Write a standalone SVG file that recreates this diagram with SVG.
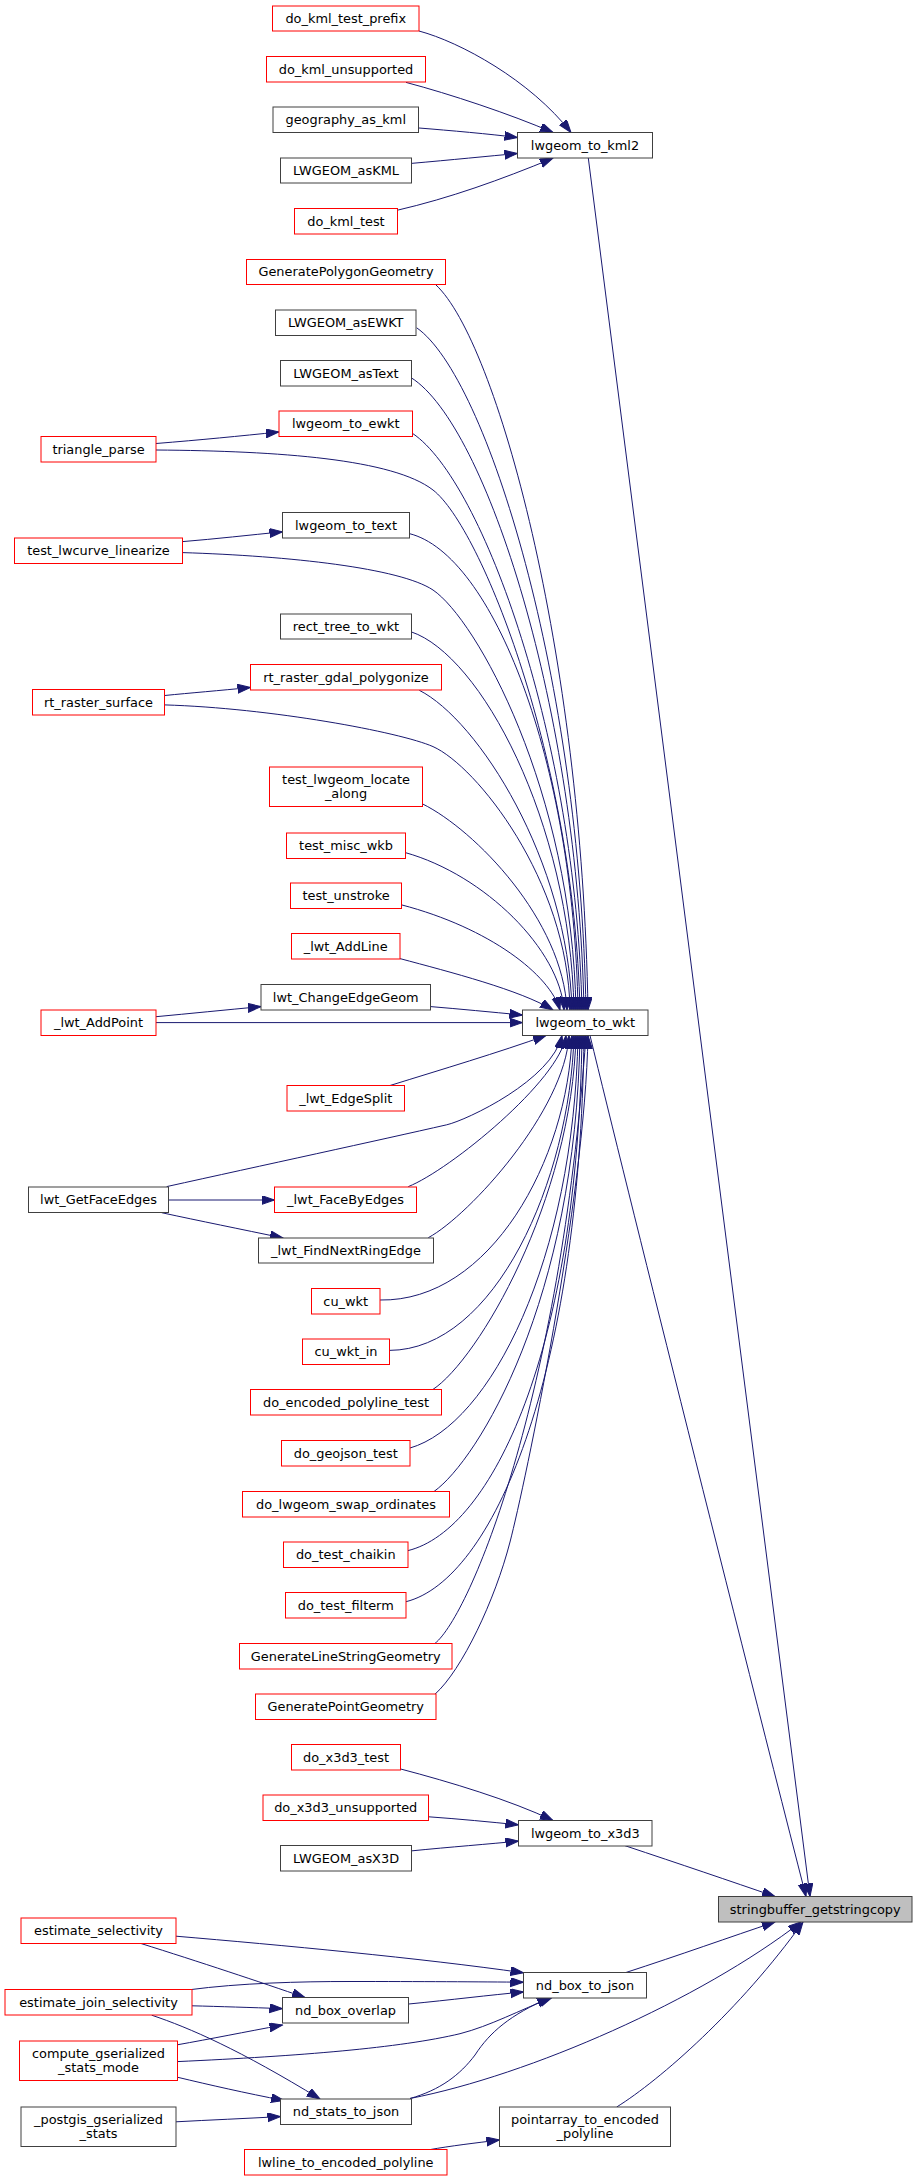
<svg xmlns="http://www.w3.org/2000/svg" width="917" height="2181" viewBox="0 0 917 2181">
<style>
.n rect{fill:#ffffff;stroke-width:1}
.r rect{stroke:#ff0000}
.k rect{stroke:#404040}
.g rect{fill:#bfbfbf;stroke:#404040}
text{font-family:"DejaVu Sans","Liberation Sans",sans-serif;font-size:12.9px;text-anchor:middle;fill:#000000}
#edges path{fill:none;stroke:#191970;stroke-width:1;marker-end:url(#a)}
</style>
<defs>
<marker id="a" markerWidth="14" markerHeight="10" refX="13" refY="4.5" orient="auto" markerUnits="userSpaceOnUse">
<path d="M0,0 L13,4.5 L0,9 z" fill="#191970" stroke="#191970" stroke-width="1"/>
</marker>
</defs>
<rect width="917" height="2181" fill="#ffffff"/>
<g id="edges">
<path d="M419,31 C460,42 530,80 571,132.5"/>
<path d="M406,82.4 C450,94 510,114 553,132.5"/>
<path d="M419,128 C450,130.5 490,134 517.5,137.5"/>
<path d="M411.3,163.4 C450,160 490,156 517.5,153.5"/>
<path d="M397,210.3 C450,198 500,180 553,158.2"/>
<path d="M588.3,158 L810,1896.5"/>
<path d="M436,285 C496,341 582,650 588,1010"/>
<path d="M416.7,327.8 C487,377 580,680 586,1010"/>
<path d="M411.3,377.8 C486,425 578,710 584,1010"/>
<path d="M412.7,433.5 C483,481 576,740 582,1010"/>
<path d="M156,443.5 C200,440 240,436 279,432"/>
<path d="M156,450 C280,451 393,459 433,490 C481,527 574,760 580,1010"/>
<path d="M409.3,533.6 C492,554 574,760 578,1010"/>
<path d="M182.7,541.6 C215,539 250,535 282.5,531.8"/>
<path d="M182.7,552.6 C290,556 400,568 433,590 C476,619 572,790 576,1010"/>
<path d="M411.3,631.9 C480,655 570,820 574,1010"/>
<path d="M419.3,690.3 C478,720 568,860 572,1010"/>
<path d="M164.7,695.5 C190,693 220,690.5 250.5,687.5"/>
<path d="M164.7,704.9 C270,708 400,732 433,746.6 C476,765.6 568,880 570,1010"/>
<path d="M422.7,804 C475,830 563,920 567,1010"/>
<path d="M405.3,852.6 C485,875 560,950 564,1010"/>
<path d="M401.3,904.8 C490,928 550,975 560,1010"/>
<path d="M400,958.6 C450,972 520,990 553,1010"/>
<path d="M430.7,1006.6 C460,1009 490,1012 522.5,1015"/>
<path d="M156,1016.7 C190,1013.5 225,1010 261,1006.6"/>
<path d="M156,1022.6 L522.5,1022.6"/>
<path d="M390,1085.5 C440,1070 500,1052 546,1035.5"/>
<path d="M166.7,1186.6 C260,1166 380,1140 446.7,1124.8 C466.7,1120.2 552,1080 562,1035.5"/>
<path d="M168.7,1200 L274.5,1200"/>
<path d="M161.7,1212.7 C200,1221 240,1229 283,1238"/>
<path d="M408.3,1186.6 C450,1170 560,1080 566,1035.5"/>
<path d="M428.3,1237.7 C470,1215 565,1110 569,1035.5"/>
<path d="M380,1300 C490,1302 568,1160 572,1035.5"/>
<path d="M389.3,1350.4 C495,1350 570,1180 574,1035.5"/>
<path d="M432.7,1389.6 C478,1360 572,1200 576,1035.5"/>
<path d="M410,1448 C490,1425 574,1260 578,1035.5"/>
<path d="M434,1491.5 C478,1460 576,1300 580,1035.5"/>
<path d="M408,1550.6 C492,1530 578,1350 582,1035.5"/>
<path d="M406,1601.7 C492,1580 580,1380 584,1035.5"/>
<path d="M435,1643.4 C470,1615 560,1400 586,1035.5"/>
<path d="M435,1694.2 C462,1670 495,1600 510,1542 C525,1484 585,1200 588,1035.5"/>
<path d="M590,1035.5 C630,1200 720,1560 806,1896.5"/>
<path d="M400.7,1769 C450,1782 510,1800 553,1820.5"/>
<path d="M428.7,1816.8 C460,1819 490,1822 518.5,1824.8"/>
<path d="M411.3,1850.9 C450,1847 490,1844 518.5,1841.1"/>
<path d="M625,1845.7 C680,1864 730,1881 775,1896.5"/>
<path d="M176,1936.2 C280,1945 420,1958 523.5,1972.8"/>
<path d="M189,1989.8 C240,1983 300,1981.5 350,1981.5 C420,1981.5 480,1981.8 523.5,1982.2"/>
<path d="M140,1943.2 C200,1962 260,1982 305,1997.5"/>
<path d="M192,2005.8 C220,2006.5 250,2007.5 282.5,2008.6"/>
<path d="M408.7,2004 C450,2000 490,1995 523.5,1992"/>
<path d="M177.3,2044.8 C210,2039 245,2032 282.5,2025"/>
<path d="M177.3,2061.6 C300,2056 400,2048 460,2033.7 C490,2026 520,2010 552,1997.5"/>
<path d="M151.7,2015.2 C190,2028 240,2050 320,2099"/>
<path d="M177.3,2077.2 C210,2085 245,2093 284,2100.5"/>
<path d="M176,2121.8 C210,2120 245,2118.5 280.5,2116.6"/>
<path d="M410,2098.5 C440,2090 460,2075 475,2055 C490,2032 510,2015 550,1997.5"/>
<path d="M625,1972.8 C680,1955 730,1937 775,1922"/>
<path d="M410,2098.5 C530,2075 700,2000 801,1922"/>
<path d="M616.7,2107 C660,2080 740,2010 803,1922"/>
<path d="M430,2149.6 C450,2146 475,2143 499.5,2140"/>
</g>
<g id="n_do_kml_test_prefix" class="n r"><rect x="272.5" y="6" width="146.5" height="25"/><text x="345.75" y="22.7">do_kml_test_prefix</text></g>
<g id="n_do_kml_unsupported" class="n r"><rect x="266.5" y="56.5" width="159" height="25.5"/><text x="346" y="73.5">do_kml_unsupported</text></g>
<g id="n_geography_as_kml" class="n k"><rect x="273" y="107" width="145.5" height="25.5"/><text x="345.75" y="124">geography_as_kml</text></g>
<g id="n_LWGEOM_asKML" class="n k"><rect x="280.5" y="158" width="131" height="25"/><text x="346" y="174.7">LWGEOM_asKML</text></g>
<g id="n_do_kml_test" class="n r"><rect x="294.5" y="208.5" width="103" height="25.5"/><text x="346" y="225.5">do_kml_test</text></g>
<g id="n_lwgeom_to_kml2" class="n k"><rect x="517.5" y="132.5" width="135" height="25.5"/><text x="585" y="149.5">lwgeom_to_kml2</text></g>
<g id="n_GeneratePolygonGeometry" class="n r"><rect x="246.5" y="259.5" width="199" height="25"/><text x="346" y="276.2">GeneratePolygonGeometry</text></g>
<g id="n_LWGEOM_asEWKT" class="n k"><rect x="275.5" y="310" width="140.5" height="25.5"/><text x="345.75" y="327">LWGEOM_asEWKT</text></g>
<g id="n_LWGEOM_asText" class="n k"><rect x="280.5" y="360.5" width="131" height="25.5"/><text x="346" y="377.5">LWGEOM_asText</text></g>
<g id="n_lwgeom_to_ewkt" class="n r"><rect x="279" y="411" width="133.5" height="25.5"/><text x="345.75" y="428">lwgeom_to_ewkt</text></g>
<g id="n_triangle_parse" class="n r"><rect x="41" y="436.5" width="115" height="25.5"/><text x="98.5" y="453.5">triangle_parse</text></g>
<g id="n_lwgeom_to_text" class="n k"><rect x="282.5" y="512.5" width="127" height="25.5"/><text x="346" y="529.5">lwgeom_to_text</text></g>
<g id="n_test_lwcurve_linearize" class="n r"><rect x="14.5" y="538" width="168" height="25.5"/><text x="98.5" y="555">test_lwcurve_linearize</text></g>
<g id="n_rect_tree_to_wkt" class="n k"><rect x="280.5" y="614" width="131" height="25"/><text x="346" y="630.7">rect_tree_to_wkt</text></g>
<g id="n_rt_raster_gdal_polygonize" class="n r"><rect x="250.5" y="664.5" width="191" height="25.5"/><text x="346" y="681.5">rt_raster_gdal_polygonize</text></g>
<g id="n_rt_raster_surface" class="n r"><rect x="32.5" y="689.5" width="132" height="25.5"/><text x="98.5" y="706.5">rt_raster_surface</text></g>
<g id="n_test_lwgeom_locate_along" class="n r"><rect x="269.5" y="767" width="153" height="39.5"/><text x="346" y="783.5">test_lwgeom_locate</text><text x="346" y="797.5">_along</text></g>
<g id="n_test_misc_wkb" class="n r"><rect x="286.5" y="833" width="119" height="25.5"/><text x="346" y="850">test_misc_wkb</text></g>
<g id="n_test_unstroke" class="n r"><rect x="290.5" y="883" width="111" height="25.5"/><text x="346" y="900">test_unstroke</text></g>
<g id="n__lwt_AddLine" class="n r"><rect x="291.5" y="933.5" width="108.5" height="25.5"/><text x="345.75" y="950.5">_lwt_AddLine</text></g>
<g id="n_lwt_ChangeEdgeGeom" class="n k"><rect x="261" y="984.5" width="169.5" height="25.5"/><text x="345.75" y="1001.5">lwt_ChangeEdgeGeom</text></g>
<g id="n__lwt_AddPoint" class="n r"><rect x="41" y="1010" width="115" height="25.5"/><text x="98.5" y="1027">_lwt_AddPoint</text></g>
<g id="n_lwgeom_to_wkt" class="n k"><rect x="522.5" y="1010" width="125.5" height="25.5"/><text x="585.25" y="1027">lwgeom_to_wkt</text></g>
<g id="n__lwt_EdgeSplit" class="n r"><rect x="287" y="1085.5" width="117.5" height="25.5"/><text x="345.75" y="1102.5">_lwt_EdgeSplit</text></g>
<g id="n_lwt_GetFaceEdges" class="n k"><rect x="28.5" y="1187" width="140" height="25.5"/><text x="98.5" y="1204">lwt_GetFaceEdges</text></g>
<g id="n__lwt_FaceByEdges" class="n r"><rect x="274.5" y="1187" width="142" height="25.5"/><text x="345.5" y="1204">_lwt_FaceByEdges</text></g>
<g id="n__lwt_FindNextRingEdge" class="n k"><rect x="258.5" y="1238" width="175" height="25"/><text x="346" y="1254.7">_lwt_FindNextRingEdge</text></g>
<g id="n_cu_wkt" class="n r"><rect x="311.5" y="1288.5" width="68.5" height="25.5"/><text x="345.75" y="1305.5">cu_wkt</text></g>
<g id="n_cu_wkt_in" class="n r"><rect x="302.5" y="1339" width="87" height="25.5"/><text x="346" y="1356">cu_wkt_in</text></g>
<g id="n_do_encoded_polyline_test" class="n r"><rect x="250.5" y="1389.5" width="191" height="25.5"/><text x="346" y="1406.5">do_encoded_polyline_test</text></g>
<g id="n_do_geojson_test" class="n r"><rect x="281.5" y="1440.5" width="128.5" height="25.5"/><text x="345.75" y="1457.5">do_geojson_test</text></g>
<g id="n_do_lwgeom_swap_ordinates" class="n r"><rect x="242.5" y="1491.5" width="207" height="25.5"/><text x="346" y="1508.5">do_lwgeom_swap_ordinates</text></g>
<g id="n_do_test_chaikin" class="n r"><rect x="283.5" y="1542" width="124.5" height="25.5"/><text x="345.75" y="1559">do_test_chaikin</text></g>
<g id="n_do_test_filterm" class="n r"><rect x="285.5" y="1592.5" width="120.5" height="25.5"/><text x="345.75" y="1609.5">do_test_filterm</text></g>
<g id="n_GenerateLineStringGeometry" class="n r"><rect x="239.5" y="1643.5" width="212.5" height="25.5"/><text x="345.75" y="1660.5">GenerateLineStringGeometry</text></g>
<g id="n_GeneratePointGeometry" class="n r"><rect x="255.5" y="1694" width="180.5" height="25.5"/><text x="345.75" y="1711">GeneratePointGeometry</text></g>
<g id="n_do_x3d3_test" class="n r"><rect x="291.5" y="1744.5" width="109" height="25.5"/><text x="346" y="1761.5">do_x3d3_test</text></g>
<g id="n_do_x3d3_unsupported" class="n r"><rect x="263" y="1795" width="165.5" height="25.5"/><text x="345.75" y="1812">do_x3d3_unsupported</text></g>
<g id="n_LWGEOM_asX3D" class="n k"><rect x="280.5" y="1845.5" width="131" height="25.5"/><text x="346" y="1862.5">LWGEOM_asX3D</text></g>
<g id="n_lwgeom_to_x3d3" class="n k"><rect x="518.5" y="1820.5" width="133.5" height="25.5"/><text x="585.25" y="1837.5">lwgeom_to_x3d3</text></g>
<g id="n_stringbuffer_getstringcopy" class="n g"><rect x="718.5" y="1896.5" width="193.5" height="25.5"/><text x="815.25" y="1913.5">stringbuffer_getstringcopy</text></g>
<g id="n_estimate_selectivity" class="n r"><rect x="21" y="1918" width="155" height="25.5"/><text x="98.5" y="1935">estimate_selectivity</text></g>
<g id="n_estimate_join_selectivity" class="n r"><rect x="5" y="1989.5" width="187" height="25.5"/><text x="98.5" y="2006.5">estimate_join_selectivity</text></g>
<g id="n_nd_box_overlap" class="n k"><rect x="282.5" y="1997.5" width="126" height="25.5"/><text x="345.5" y="2014.5">nd_box_overlap</text></g>
<g id="n_nd_box_to_json" class="n k"><rect x="523.5" y="1972.5" width="123" height="25.5"/><text x="585" y="1989.5">nd_box_to_json</text></g>
<g id="n_compute_gserialized_stats_mode" class="n r"><rect x="19.5" y="2041" width="158" height="39.5"/><text x="98.5" y="2057.5">compute_gserialized</text><text x="98.5" y="2071.5">_stats_mode</text></g>
<g id="n_nd_stats_to_json" class="n k"><rect x="280.5" y="2099" width="131" height="25.5"/><text x="346" y="2116">nd_stats_to_json</text></g>
<g id="n__postgis_gserialized_stats" class="n k"><rect x="21" y="2107" width="155" height="39.5"/><text x="98.5" y="2123.5">_postgis_gserialized</text><text x="98.5" y="2137.5">_stats</text></g>
<g id="n_pointarray_to_encoded_polyline" class="n k"><rect x="499.5" y="2107" width="171" height="39.5"/><text x="585" y="2123.5">pointarray_to_encoded</text><text x="585" y="2137.5">_polyline</text></g>
<g id="n_lwline_to_encoded_polyline" class="n r"><rect x="244.5" y="2149.5" width="202.5" height="25.5"/><text x="345.75" y="2166.5">lwline_to_encoded_polyline</text></g>
</svg>
